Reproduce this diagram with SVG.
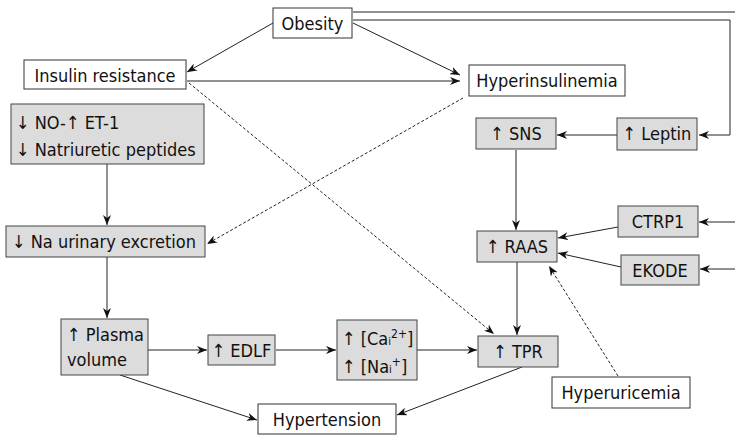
<svg xmlns="http://www.w3.org/2000/svg" width="735" height="436" viewBox="0 0 735 436">
<style>
.b{fill:#fff;stroke:#333;stroke-width:1}
.g{fill:#dcdcdc;stroke:#444;stroke-width:1}
text{font-family:"DejaVu Sans Condensed","DejaVu Sans",sans-serif;font-size:18px;fill:#111}
.l{fill:none;stroke:#222;stroke-width:1}
.d{fill:none;stroke:#222;stroke-width:1;stroke-dasharray:3,2}
</style>
<defs>
<marker id="a" viewBox="0 0 10 8" refX="10" refY="4" markerWidth="10" markerHeight="8" markerUnits="userSpaceOnUse" orient="auto">
<path d="M0,0 L10,4 L0,8 L3,4 z" fill="#111"/>
</marker>
</defs>
<g id="connectors">
<line class="l" x1="273" y1="23" x2="187" y2="72" marker-end="url(#a)"/>
<line class="l" x1="353" y1="23" x2="460" y2="75" marker-end="url(#a)"/>
<line class="l" x1="187" y1="81" x2="460" y2="81" marker-end="url(#a)"/>
<line class="l" x1="353" y1="12" x2="735" y2="12"/>
<polyline class="l" points="353,20 730,20 730,135 699,135" marker-end="url(#a)"/>
<line class="l" x1="617" y1="135" x2="557" y2="135" marker-end="url(#a)"/>
<line class="l" x1="516" y1="150" x2="516" y2="230" marker-end="url(#a)"/>
<line class="l" x1="735" y1="222" x2="699" y2="222" marker-end="url(#a)"/>
<line class="l" x1="735" y1="269" x2="700" y2="269" marker-end="url(#a)"/>
<line class="l" x1="618" y1="227" x2="558" y2="238" marker-end="url(#a)"/>
<line class="l" x1="621" y1="267" x2="558" y2="253" marker-end="url(#a)"/>
<line class="l" x1="517" y1="262" x2="517" y2="335" marker-end="url(#a)"/>
<line class="d" x1="618" y1="376" x2="549" y2="266" marker-end="url(#a)"/>
<line class="d" x1="189" y1="83" x2="494" y2="334" marker-end="url(#a)"/>
<line class="d" x1="463" y1="98" x2="207" y2="244" marker-end="url(#a)"/>
<line class="l" x1="107" y1="164" x2="107" y2="225" marker-end="url(#a)"/>
<line class="l" x1="107" y1="257" x2="107" y2="318" marker-end="url(#a)"/>
<line class="l" x1="148" y1="350" x2="207" y2="350" marker-end="url(#a)"/>
<line class="l" x1="276" y1="350" x2="336" y2="350" marker-end="url(#a)"/>
<line class="l" x1="417" y1="350" x2="477" y2="350" marker-end="url(#a)"/>
<line class="l" x1="120" y1="375" x2="257" y2="420" marker-end="url(#a)"/>
<line class="l" x1="522" y1="367" x2="397" y2="415" marker-end="url(#a)"/>
</g>
<g id="obesity"><rect class="b" x="273" y="8" width="79" height="30"/><text x="312.5" y="30" text-anchor="middle">Obesity</text></g>
<g id="insulin-resistance"><rect class="b" x="24" y="60" width="162" height="29"/><text x="105" y="82" text-anchor="middle">Insulin resistance</text></g>
<g id="hyperinsulinemia"><rect class="b" x="469" y="65" width="156" height="31"/><text x="547" y="87" text-anchor="middle">Hyperinsulinemia</text></g>
<g id="no-et1"><rect class="g" x="11" y="104" width="193" height="60"/><text x="16" y="129">↓ NO-↑ ET-1</text><text x="16" y="156">↓ Natriuretic peptides</text></g>
<g id="na-excretion"><rect class="g" x="6" y="226" width="199" height="31"/><text x="12" y="248">↓ Na urinary excretion</text></g>
<g id="plasma-volume"><rect class="g" x="61" y="319" width="87" height="56"/><text x="67" y="341">↑ Plasma</text><text x="67" y="366">volume</text></g>
<g id="edlf"><rect class="g" x="208" y="335" width="67" height="30"/><text x="241.5" y="357" text-anchor="middle">↑ EDLF</text></g>
<g id="ca-na"><rect class="g" x="337" y="320" width="80" height="60"/><text x="342" y="345">↑ [Ca<tspan font-size="11">i</tspan><tspan font-size="12" dy="-7">2+</tspan><tspan dy="7">]</tspan></text><text x="342" y="373">↑ [Na<tspan font-size="11">i</tspan><tspan font-size="12" dy="-7">+</tspan><tspan dy="7">]</tspan></text></g>
<g id="tpr"><rect class="g" x="478" y="336" width="80" height="31"/><text x="518" y="358" text-anchor="middle">↑ TPR</text></g>
<g id="hypertension"><rect class="b" x="258" y="404" width="138" height="30"/><text x="327" y="426" text-anchor="middle">Hypertension</text></g>
<g id="sns"><rect class="g" x="476" y="118" width="80" height="31"/><text x="516" y="140" text-anchor="middle">↑ SNS</text></g>
<g id="leptin"><rect class="g" x="617" y="118" width="80" height="32"/><text x="657" y="140" text-anchor="middle">↑ Leptin</text></g>
<g id="raas"><rect class="g" x="477" y="231" width="80" height="31"/><text x="517" y="253" text-anchor="middle">↑ RAAS</text></g>
<g id="ctrp1"><rect class="g" x="618" y="206" width="80" height="31"/><text x="658" y="228" text-anchor="middle">CTRP1</text></g>
<g id="ekode"><rect class="g" x="621" y="255" width="78" height="30"/><text x="660" y="277" text-anchor="middle">EKODE</text></g>
<g id="hyperuricemia"><rect class="b" x="552" y="377" width="138" height="31"/><text x="621" y="399" text-anchor="middle">Hyperuricemia</text></g>
</svg>
